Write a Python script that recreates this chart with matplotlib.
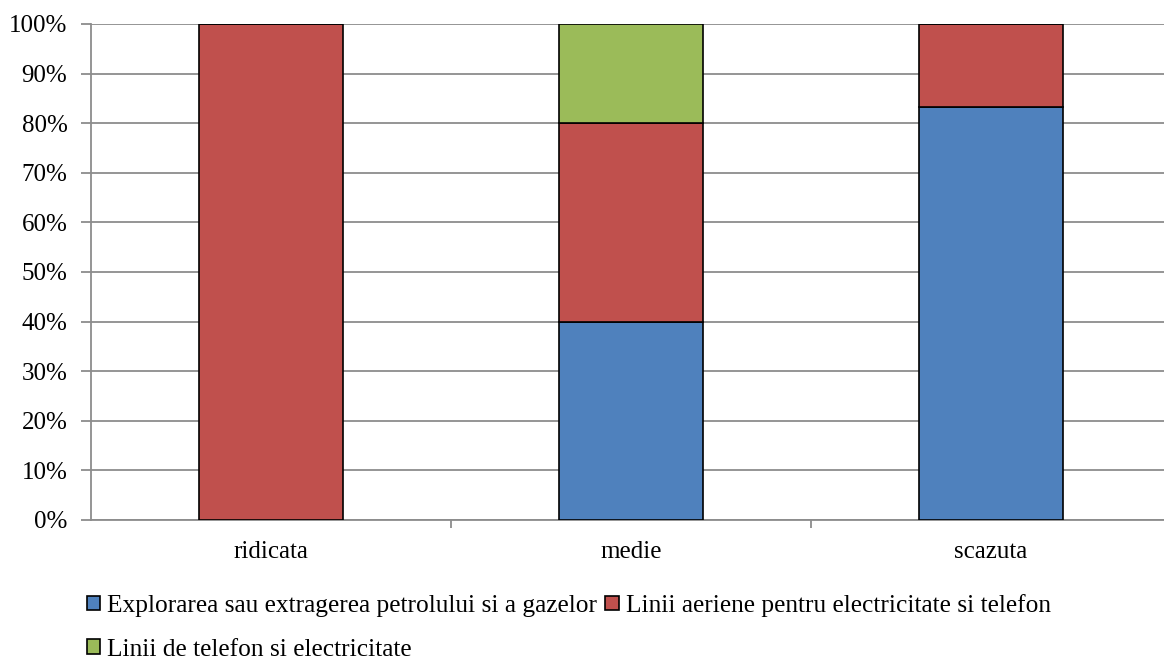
import matplotlib
matplotlib.use("Agg")
import matplotlib.pyplot as plt
from matplotlib.ticker import FuncFormatter

categories = ["ridicata", "medie", "scazuta"]
series_names = ["Explorarea sau extragerea petrolului si a gazelor",
                "Linii aeriene pentru electricitate si telefon",
                "Linii de telefon si electricitate"]
explorare = [0.0, 40.0, 83.3]
linii_aeriene = [100.0, 40.0, 16.7]
linii_telefon = [0.0, 20.0, 0.0]
colors = ["#4F81BD", "#C0504D", "#9BBB59"]

plt.rcParams['font.family'] = ['Liberation Serif', 'DejaVu Serif']

fig = plt.figure(figsize=(11.64, 6.62), dpi=100)
ax = fig.add_axes([91/1164, 1-520/662, 1080/1164, 496/662])

x = list(range(len(categories)))
bottom = [0.0]*len(categories)
handles = []
for vals, name, c in zip([explorare, linii_aeriene, linii_telefon], series_names, colors):
    h = ax.bar(x, vals, width=0.4, bottom=bottom, color=c, edgecolor="black",
               linewidth=1.2, label=name, zorder=3)
    handles.append(h)
    bottom = [b + v for b, v in zip(bottom, vals)]

ax.set_xlim(-0.5, 2.5)
ax.set_ylim(0, 100)
ax.set_yticks(range(0, 101, 10))
ax.yaxis.set_major_formatter(FuncFormatter(lambda v, p: f"{int(v)}%"))
ax.grid(axis="y", color="#8C8C8C", linewidth=1.3, zorder=0)
ax.set_xticks([0.5, 1.5, 2.5])
ax.set_xticklabels([])
ax.set_xticks(x, minor=True)
ax.set_xticklabels(categories, minor=True)
ax.tick_params(axis="x", which="minor", length=0, pad=15, labelsize=18)
ax.tick_params(axis="x", which="major", length=6, color="#8C8C8C", width=1.3)
ax.tick_params(axis="y", length=7, color="#8C8C8C", width=1.3, labelsize=18, pad=10)
for s in ["top", "right"]:
    ax.spines[s].set_visible(False)
for s in ["left", "bottom"]:
    ax.spines[s].set_color("#8C8C8C")
    ax.spines[s].set_linewidth(1.3)

leg = fig.legend([handles[0], handles[2], handles[1]],
                 [series_names[0], series_names[2], series_names[1]],
                 ncol=2, loc="upper left", bbox_to_anchor=(87/1164, 1-594/662),
                 frameon=False, fontsize=18.3, handlelength=0.52, handleheight=0.52,
                 handletextpad=0.28, columnspacing=0.32, labelspacing=0.85,
                 borderaxespad=0, borderpad=0)

fig.savefig("out.png", dpi=100)
